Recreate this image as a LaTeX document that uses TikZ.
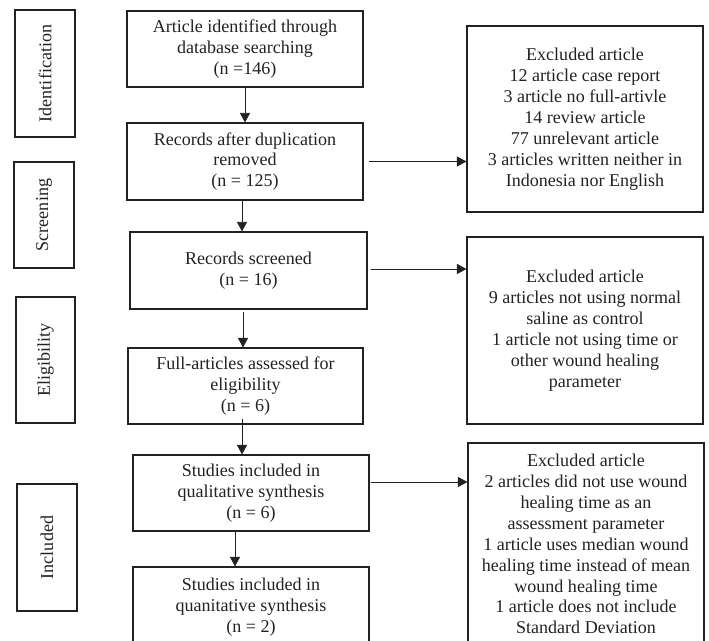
\documentclass[tikz,border=0pt]{standalone}
\usepackage{fontspec}
\setmainfont{Liberation Serif}
\usetikzlibrary{arrows.meta}
\definecolor{ink}{HTML}{222222}
\tikzset{
  box/.style={draw=ink, line width=1.1bp, align=center, inner sep=0pt, font=\fontsize{18.1}{21}\selectfont, text=ink},
  side/.style={box, minimum width=60bp},
  arr/.style={draw=ink, line width=0.8bp, -{Triangle[length=9.5bp,width=10bp]}}
}
\begin{document}
\begin{tikzpicture}[x=1bp,y=-1bp]
\useasboundingbox (0,0) rectangle (709,641);
\clip (0,0) rectangle (709,641);
% stage labels
\node[side, minimum height=127bp] (ident) at (45,73.5) {\rotatebox{90}{Identification}};
\node[side, minimum height=106bp] (screen) at (44,215) {\rotatebox{90}{Screening}};
\node[side, minimum width=59bp, minimum height=126bp] (elig) at (45.5,360) {\rotatebox{90}{Eligibility}};
\node[side, minimum height=127bp] (incl) at (47,547.5) {\rotatebox{90}{Included}};
% main boxes
\node[box, minimum width=236bp, minimum height=76bp] (b1) at (245,49) {Article identified through\\database searching\\(n =146)};
\node[box, minimum width=236bp, minimum height=77bp] (b2) at (245,161.5) {Records after duplication\\removed\\(n = 125)};
\node[box, minimum width=237bp, minimum height=77bp] (b3) at (248.5,270.5) {Records screened\\(n = 16)};
\node[box, minimum width=235bp, minimum height=76bp] (b4) at (245.5,386) {Full-articles assessed for\\eligibility\\(n = 6)};
\node[box, minimum width=236bp, minimum height=76bp] (b5) at (251,493) {Studies included in\\qualitative synthesis\\(n = 6)};
\node[box, minimum width=236bp, minimum height=80bp] (b6) at (251,607) {Studies included in\\quanitative synthesis\\(n = 2)};
% excluded boxes
\node[box, minimum width=236bp, minimum height=186bp] (e1) at (585,119) {Excluded article\\12 article case report\\3 article no full-artivle\\14 review article\\77 unrelevant article\\3 articles written neither in\\Indonesia nor English};
\node[box, minimum width=236bp, minimum height=187bp] (e2) at (585,330.5) {Excluded article\\9 articles not using normal\\saline as control\\1 article not using time or\\other wound healing\\parameter};
\node[box, minimum width=236bp, minimum height=202bp] (e3) at (586,544) {Excluded article\\2 articles did not use wound\\healing time as an\\assessment parameter\\1 article uses median wound\\healing time instead of mean\\wound healing time\\1 article does not include\\Standard Deviation};
% vertical connectors
\draw[arr] (b1.south) -- (b2.north);
\draw[arr] (b2.south -| 242,0) -- (b3.north -| 242,0);
\draw[arr] ([yshift=-2bp]b3.south -| 243,0) -- (b4.north -| 243,0);
\draw[arr] ([yshift=6bp]b4.south -| 242,0) -- (b5.north -| 242,0);
\draw[arr] (b5.south -| 235,0) -- (b6.north -| 235,0);
% horizontal connectors
\draw[arr] ([xshift=5bp]b2.east) coordinate (s2) -- (s2 -| e1.west);
\draw[arr] ([shift={(3,-1.5)}]b3.east) coordinate (s3) -- (s3 -| e2.west);
\draw[arr] ([shift={(1,-11)}]b5.east) coordinate (s5) -- (s5 -| e3.west);
\end{tikzpicture}
\end{document}
